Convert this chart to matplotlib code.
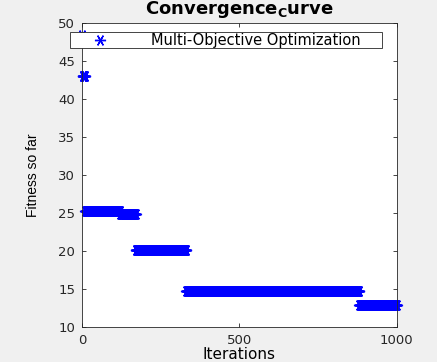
import numpy as np
import matplotlib
matplotlib.use('Agg')
import matplotlib.pyplot as plt

# convergence levels (best fitness so far) and how many iterations each lasts
step_values = [48.5, 43.1, 25.2, 24.9, 20.1, 14.7, 12.9]
step_lengths = [1, 8, 111, 50, 160, 550, 120]

fitness = np.repeat(step_values, step_lengths)
iterations = np.arange(1, len(fitness) + 1)

x_ticks = [0, 500, 1000]
y_ticks = [10, 15, 20, 25, 30, 35, 40, 45, 50]

plt.rcParams['font.family'] = ['DejaVu Sans']

fig = plt.figure(figsize=(4.37, 3.62), dpi=100)
fig.patch.set_facecolor('#f0f0f0')
ax = fig.add_axes([0.188, 0.097, 0.72, 0.839])
ax.set_facecolor('white')

ax.plot(iterations, fitness, linestyle='none', marker=(6, 2, 90), color='blue',
        markersize=8, markeredgewidth=1.0, clip_on=False,
        label='Multi-Objective Optimization')

ax.set_xlim(0, 1000)
ax.set_ylim(10, 50)
ax.set_xticks(x_ticks)
ax.set_yticks(y_ticks)
ax.tick_params(direction='in', top=True, right=True, length=3, width=0.6,
               colors='#262626', labelsize=9.5, pad=5)
for s in ax.spines.values():
    s.set_color('#262626')
    s.set_linewidth(0.6)

ax.set_xlabel('Iterations', fontsize=11, labelpad=0)
ax.set_ylabel('Fitness so far', family=['Liberation Sans'], fontsize=10,
              labelpad=13)
ax.set_title(r'Convergence$_{\mathbf{C}}$urve', fontsize=13, fontweight='bold',
             pad=1, y=1.025)

leg = ax.legend(loc='upper left',
                bbox_to_anchor=(70 / 437, 1 - 32 / 362 - 0.01, 312 / 437, 0.01),
                bbox_transform=fig.transFigure, mode='expand', fontsize=10.5,
                handlelength=4.0, handletextpad=1.5, borderpad=0.05,
                fancybox=False, framealpha=1, edgecolor='#262626', borderaxespad=0)
leg.get_frame().set_linewidth(0.6)
leg.set_zorder(10)

fig.savefig('out.png', dpi=100, facecolor=fig.get_facecolor())
